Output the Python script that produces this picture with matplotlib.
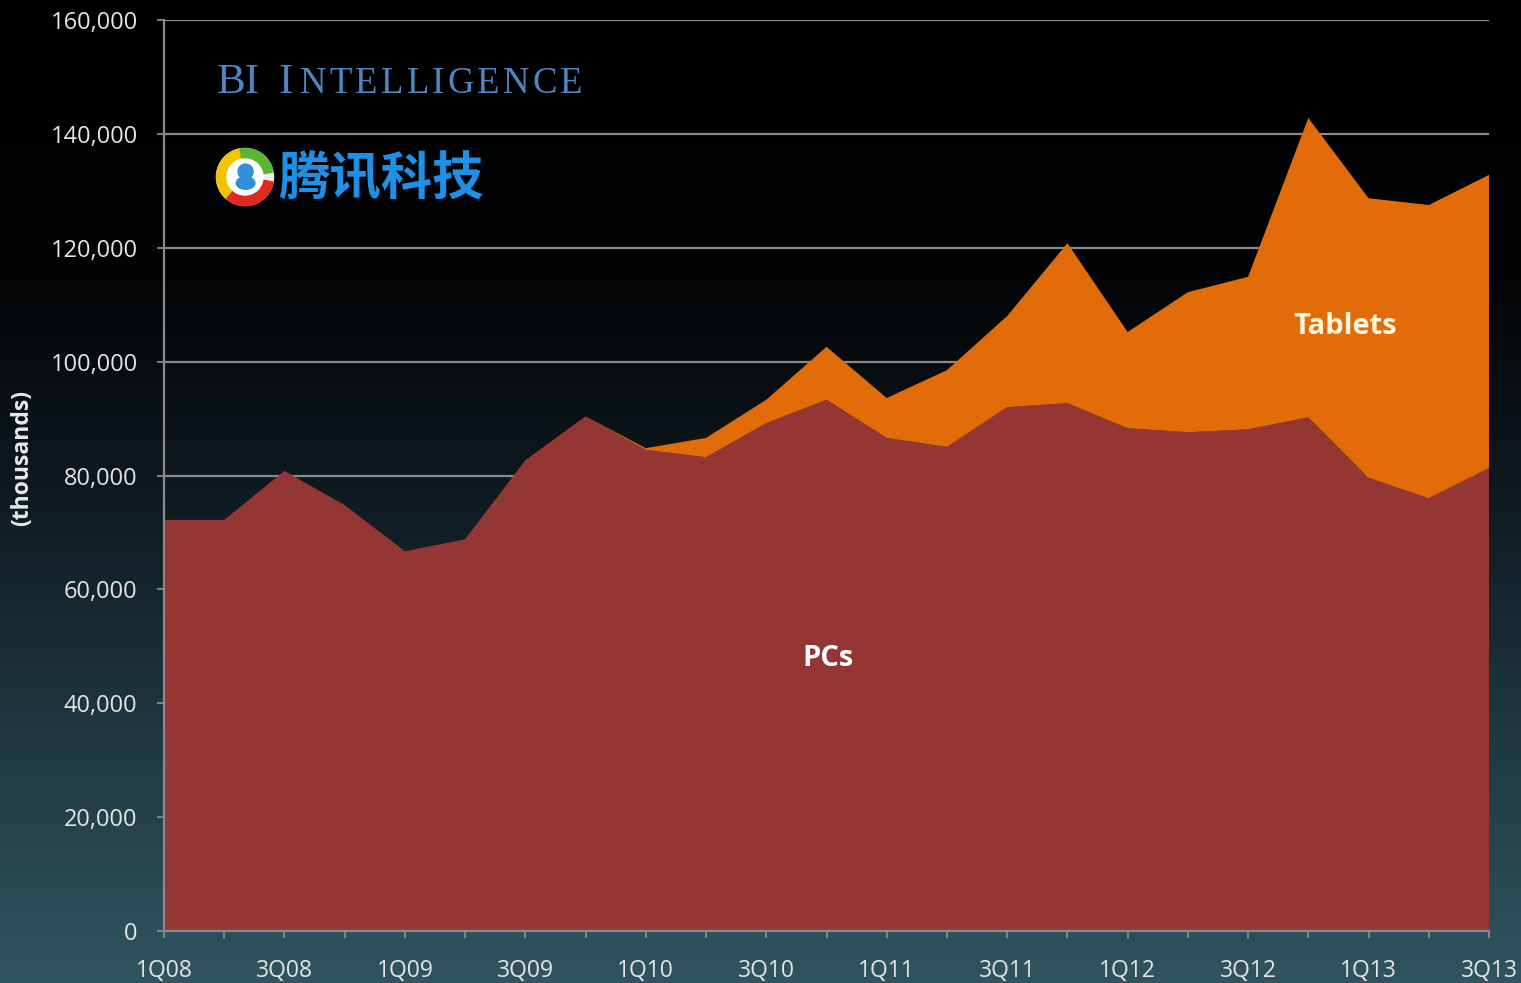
import numpy as np
import matplotlib
matplotlib.use("Agg")
import matplotlib.pyplot as plt
from matplotlib.patches import Wedge, Circle, Ellipse
from matplotlib.colors import LinearSegmentedColormap

# ---------------- data ----------------
quarters = ["1Q08", "2Q08", "3Q08", "4Q08", "1Q09", "2Q09", "3Q09", "4Q09",
            "1Q10", "2Q10", "3Q10", "4Q10", "1Q11", "2Q11", "3Q11", "4Q11",
            "1Q12", "2Q12", "3Q12", "4Q12", "1Q13", "2Q13", "3Q13"]
pcs = [72200, 72200, 80800, 74800, 66700, 68800, 82700, 90400,
       84500, 83200, 89200, 93300, 86600, 85000, 92000, 92700,
       88300, 87600, 88100, 90200, 79600, 76000, 81300]
tablets = [0, 0, 0, 0, 0, 0, 0, 0,
           300, 3400, 4100, 9300, 7000, 13500, 16000, 28100,
           16900, 24600, 26800, 52600, 49100, 51500, 51500]
yticks = [0, 20000, 40000, 60000, 80000, 100000, 120000, 140000, 160000]

PC_COLOR = "#943634"
TAB_COLOR = "#E36C0A"
GRID = "#8a8a8a"
TXT = "#e4e4e4"

W, H = 1521, 983
fig = plt.figure(figsize=(W / 100, H / 100), dpi=100)

# background gradient
bg = fig.add_axes([0, 0, 1, 1], zorder=-10)
cmap = LinearSegmentedColormap.from_list(
    "bg", [(0.0, (0, 0, 0)), (0.28, (0.01, 0.015, 0.02)),
           (0.5, (0.06, 0.1, 0.125)), (0.75, (0.12, 0.22, 0.26)),
           (1.0, (0.19, 0.33, 0.38))])
grad = np.linspace(0, 1, 512).reshape(-1, 1)
bg.imshow(grad, aspect="auto", cmap=cmap, extent=[0, 1, 1, 0])
bg.set_xlim(0, 1)
bg.set_ylim(1, 0)
bg.axis("off")

# main axes
left, right, top, bottom = 164, 1489, 20, 931
ax = fig.add_axes([left / W, 1 - bottom / H, (right - left) / W, (bottom - top) / H])
ax.patch.set_alpha(0)
x = np.arange(len(quarters))
ax.stackplot(x, pcs, tablets, colors=[PC_COLOR, TAB_COLOR], linewidth=0, zorder=2)
ax.set_xlim(0, len(quarters) - 1)
ax.set_ylim(0, 160000)

ax.set_yticks(yticks)
ax.set_yticklabels([f"{v:,}" for v in yticks])
ax.yaxis.grid(True, color=GRID, linewidth=1.6, zorder=1)
ax.set_axisbelow(True)

ax.set_xticks(x[::2])
ax.set_xticklabels(quarters[::2])
ax.set_xticks(x, minor=True)

for s in ["top", "right"]:
    ax.spines[s].set_visible(False)
for s in ["left", "bottom"]:
    ax.spines[s].set_color(GRID)
    ax.spines[s].set_linewidth(1.6)
    ax.spines[s].set_zorder(3)

ax.tick_params(axis="y", colors=GRID, labelcolor=TXT, length=5, width=1.3,
               pad=14, labelsize=17)
ax.tick_params(axis="x", which="both", colors=GRID, labelcolor=TXT, length=5,
               width=1.3, pad=15, labelsize=16.5)
for lab in ax.get_xticklabels() + ax.get_yticklabels():
    lab.set_fontfamily(["Open Sans", "DejaVu Sans"])

fig.text(22 / W, 1 - 458 / H, "(thousands)", rotation=90, ha="center", va="center",
         color="#e8e8e8", fontsize=16.5, fontweight="bold",
         family=["Open Sans", "DejaVu Sans"])

ax.text(0.501, 1 - (658 - top) / (bottom - top), "PCs", transform=ax.transAxes,
        ha="center", va="center", color="#ffffff", fontsize=21, fontweight="bold",
        family=["Open Sans", "DejaVu Sans"], zorder=5)
ax.text((1345 - left) / (right - left), 1 - (327 - top) / (bottom - top), "Tablets",
        transform=ax.transAxes, ha="center", va="center", color="#fff6dc",
        fontsize=21, fontweight="bold", family=["Open Sans", "DejaVu Sans"], zorder=5)

# BI Intelligence (small caps style, letter-spaced)
BI_COL = "#4d86c2"
SERIF = ["Liberation Serif", "DejaVu Serif"]
fig.text(217 / W, 1 - 93 / H, "BI", color=BI_COL, fontsize=31, family=SERIF,
         ha="left", va="baseline")
fig.text(279 / W, 1 - 93 / H, "I", color=BI_COL, fontsize=31, family=SERIF,
         ha="left", va="baseline")
fig.canvas.draw()
renderer = fig.canvas.get_renderer()
xpos = 300.0
for ch in "NTELLIGENCE":
    t = fig.text(xpos / W, 1 - 93 / H, ch, color=BI_COL, fontsize=26.5, family=SERIF,
                 ha="left", va="baseline")
    bb = t.get_window_extent(renderer=renderer)
    xpos += bb.width + 3.2

# Tencent logo
lg = fig.add_axes([215 / W, 1 - 207 / H, 60 / W, 60 / H])
lg.set_xlim(-1, 1)
lg.set_ylim(-1, 1)
lg.set_aspect("equal")
lg.axis("off")
lg.add_patch(Circle((0, 0), 0.95, color="#f0f0f0"))
lg.add_patch(Wedge((0, 0), 0.95, 100, 230, width=0.32, color="#f3c300"))
lg.add_patch(Wedge((0, 0), 0.95, 10, 100, width=0.32, color="#5bb531"))
lg.add_patch(Wedge((0, 0), 0.95, 230, 350, width=0.32, color="#e02a20"))
lg.add_patch(Circle((0, 0), 0.6, color="#ffffff"))
lg.add_patch(Circle((0.02, 0.18), 0.25, color="#2f8fd8"))
lg.add_patch(Ellipse((0.02, -0.2), 0.62, 0.42, color="#2f8fd8"))

fig.text(278 / W, 1 - 179 / H, "腾讯科技", color="#1e90e6", fontsize=37,
         fontweight="bold", family=["Noto Sans CJK SC", "DejaVu Sans"],
         ha="left", va="center")

fig.savefig("out.png", dpi=100, facecolor="black")
